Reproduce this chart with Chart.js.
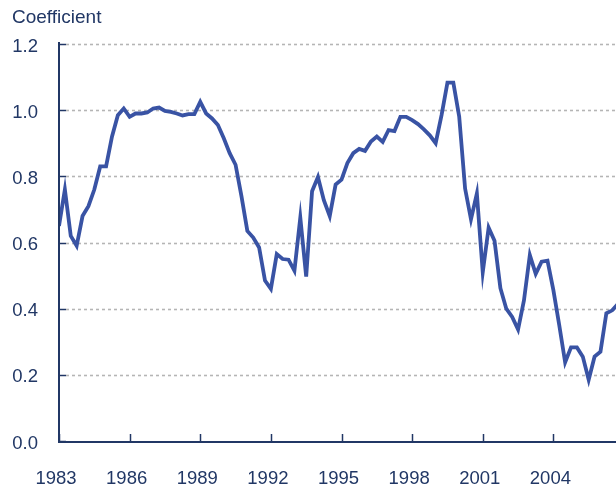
<!DOCTYPE html>
<html>
<head>
<meta charset="utf-8">
<script src="https://cdn.jsdelivr.net/npm/chart.js@4/dist/chart.umd.min.js"></script>
<style>
  html, body { margin: 0; padding: 0; background: #ffffff; }
  #wrap { width: 616px; height: 489px; position: relative; }
</style>
</head>
<body>
<div id="wrap"><canvas id="c" width="616" height="489"></canvas></div>
<script>
// ---- Data (quarterly, 1983Q1 .. 2006Q4) ----
const firstYear = 1983;
const lastYear = 2006;
const quarters = [];
for (let y = firstYear; y <= lastYear; y++) {
  for (let q = 1; q <= 4; q++) quarters.push(y + 'Q' + q);
}
const coefficient = [
  0.65, 0.76, 0.62, 0.59, 0.68, 0.71, 0.76, 0.83,
  0.83, 0.92, 0.985, 1.005, 0.98, 0.99, 0.99, 0.993,
  1.005, 1.008, 0.998, 0.995, 0.99, 0.984, 0.988, 0.988,
  1.025, 0.99, 0.975, 0.955, 0.915, 0.87, 0.835, 0.74,
  0.635, 0.615, 0.585, 0.485, 0.46, 0.565, 0.55, 0.548,
  0.515, 0.675, 0.497, 0.755, 0.798, 0.728, 0.68, 0.775,
  0.79, 0.84, 0.87, 0.883, 0.877, 0.905, 0.92, 0.904,
  0.94, 0.937, 0.98, 0.98, 0.97, 0.958, 0.942, 0.924,
  0.9, 0.985, 1.083, 1.083, 0.98, 0.763, 0.67, 0.748,
  0.51, 0.645, 0.605, 0.462, 0.40, 0.375, 0.337, 0.425,
  0.562, 0.505, 0.542, 0.545, 0.456, 0.35, 0.238, 0.283,
  0.283, 0.255, 0.185, 0.255, 0.27, 0.386, 0.395, 0.415
];
const xTickYears = [1983, 1986, 1989, 1992, 1995, 1998, 2001, 2004];
const yTickValues = [0, 0.2, 0.4, 0.6, 0.8, 1.0, 1.2];
const yAxisTitle = 'Coefficient';

// quarter label -> decimal year (start of quarter)
function quarterToYear(label) {
  const parts = label.split('Q');
  return Number(parts[0]) + (Number(parts[1]) - 1) / 4;
}
const points = quarters.map((q, i) => ({ x: quarterToYear(q), y: coefficient[i] }));

const NAVY = '#213765';
const LINE = '#3953a4';
const GRID = '#b5b5b5';
const FONT = "'Liberation Sans', Arial, sans-serif";

const axesPlugin = {
  id: 'axesPlugin',
  beforeDatasetsDraw(chart) {
    const { ctx, chartArea, scales } = chart;
    const ys = scales.y;
    ctx.save();
    ctx.strokeStyle = GRID;
    ctx.lineWidth = 1.6;
    ctx.setLineDash([3, 3]);
    yTickValues.forEach(v => {
      if (v === 0) return;
      const py = Math.round(ys.getPixelForValue(v)) + 0.5;
      ctx.beginPath();
      ctx.moveTo(chartArea.left + 7, py);
      ctx.lineTo(chartArea.right, py);
      ctx.stroke();
    });
    ctx.restore();
  },
  afterDraw(chart) {
    const { ctx, chartArea, scales } = chart;
    const xs = scales.x, ys = scales.y;
    ctx.save();
    ctx.strokeStyle = NAVY;
    // y-axis ticks
    ctx.lineWidth = 1.5;
    yTickValues.forEach(v => {
      const py = Math.round(ys.getPixelForValue(v)) + 0.5;
      ctx.beginPath();
      ctx.moveTo(chartArea.left, py);
      ctx.lineTo(chartArea.left + 7, py);
      ctx.stroke();
    });
    // x-axis ticks
    xTickYears.forEach(v => {
      const px = Math.round(xs.getPixelForValue(v)) + 0.5;
      ctx.beginPath();
      ctx.moveTo(px, chartArea.bottom);
      ctx.lineTo(px, chartArea.bottom - 7);
      ctx.stroke();
    });
    // axis lines
    ctx.lineWidth = 2;
    ctx.beginPath();
    ctx.moveTo(chartArea.left, chartArea.top - 2);
    ctx.lineTo(chartArea.left, chartArea.bottom + 1);
    ctx.lineTo(chartArea.right, chartArea.bottom + 1);
    ctx.stroke();
    // axis title
    ctx.fillStyle = NAVY;
    ctx.font = '19px ' + FONT;
    ctx.textAlign = 'left';
    ctx.textBaseline = 'alphabetic';
    ctx.fillText(yAxisTitle, 12, 23);
    ctx.restore();
  }
};

new Chart(document.getElementById('c'), {
  type: 'line',
  data: {
    datasets: [{
      data: points,
      borderColor: LINE,
      borderWidth: 3.8,
      pointRadius: 0,
      tension: 0,
      fill: false
    }]
  },
  options: {
    responsive: false,
    animation: false,
    events: [],
    layout: { padding: { top: 44, right: 0, bottom: 0, left: 0 } },
    plugins: { legend: { display: false }, tooltip: { enabled: false }, title: { display: false } },
    scales: {
      x: {
        type: 'linear',
        min: 1983,
        max: 2006.66,
        afterBuildTicks: s => { s.ticks = xTickYears.map(v => ({ value: v })); },
        afterFit: s => { s.height = 48; },
        grid: { display: false, drawTicks: false },
        border: { display: false },
        ticks: {
          color: NAVY,
          font: { family: FONT, size: 18.5 },
          padding: 27,
          labelOffset: -3,
          maxRotation: 0,
          autoSkip: false,
          callback: v => String(v)
        }
      },
      y: {
        type: 'linear',
        min: 0,
        max: 1.2,
        afterBuildTicks: s => { s.ticks = yTickValues.map(v => ({ value: v })); },
        afterFit: s => { s.width = 59; },
        grid: { display: false, drawTicks: false },
        border: { display: false },
        ticks: {
          color: NAVY,
          font: { family: FONT, size: 18.5 },
          padding: 21,
          labelOffset: 2.5,
          callback: v => Number(v).toFixed(1)
        }
      }
    }
  },
  plugins: [axesPlugin]
});
</script>
</body>
</html>
